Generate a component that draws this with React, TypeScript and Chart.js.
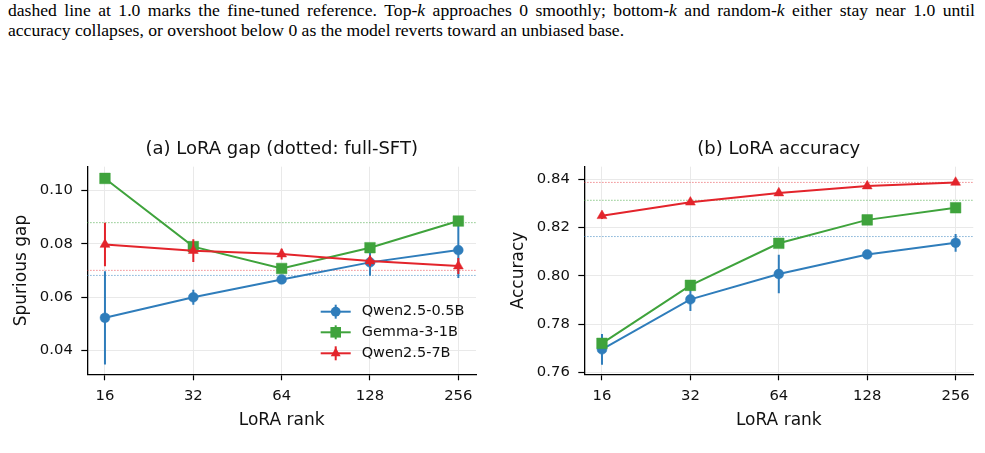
import React, { useEffect, useRef } from 'react';
import { Chart, registerables } from 'chart.js';

Chart.register(...registerables);

// ---------- data ----------
const RANKS = ['16', '32', '64', '128', '256'];
const SERIES_NAMES = ['Qwen2.5-0.5B', 'Gemma-3-1B', 'Qwen2.5-7B'];
const COLORS = ['#2f7dbb', '#3fa33c', '#e3242b'];
const REF_COLORS = ['rgba(47,125,187,0.75)', 'rgba(63,163,60,0.75)', 'rgba(227,36,43,0.65)'];
const MARKERS = ['circle', 'rect', 'triangle'];
const MARKER_RADIUS = [4.9, 7.5, 5.7];

const GAP_QWEN05 = [0.0522, 0.0599, 0.0666, 0.073, 0.0776];
const GAP_QWEN05_ERR = [0.0175, 0.0028, 0.0012, 0.005, 0.0105];
const GAP_GEMMA = [0.1045, 0.0789, 0.0707, 0.0785, 0.0885];
const GAP_GEMMA_ERR = [0.001, 0.0015, 0.001, 0.0015, 0.001];
const GAP_QWEN7 = [0.0797, 0.0774, 0.0761, 0.0735, 0.0716];
const GAP_QWEN7_ERR = [0.0082, 0.0043, 0.002, 0.002, 0.003];
const GAP_FULL_SFT = [0.0681, 0.0879, 0.07];
const GAP_TICKS = [0.04, 0.06, 0.08, 0.1];

const ACC_QWEN05 = [0.7695, 0.7902, 0.8007, 0.8088, 0.8136];
const ACC_QWEN05_ERR = [0.0064, 0.0048, 0.008, 0.0012, 0.0037];
const ACC_GEMMA = [0.772, 0.796, 0.8134, 0.8231, 0.8281];
const ACC_GEMMA_ERR = [0.0015, 0.001, 0.001, 0.001, 0.001];
const ACC_QWEN7 = [0.8248, 0.8304, 0.8342, 0.8371, 0.8386];
const ACC_QWEN7_ERR = [0.0013, 0.0008, 0.0008, 0.0008, 0.0008];
const ACC_FULL_SFT = [0.8162, 0.8312, 0.8386];
const ACC_TICKS = [0.76, 0.78, 0.8, 0.82, 0.84];

const CAPTION_LINE_1 = 'dashed line at 1.0 marks the fine-tuned reference. Top-$k approaches 0 smoothly; bottom-$k and random-$k either stay near 1.0 until';
const CAPTION_LINE_2 = 'accuracy collapses, or overshoot below 0 as the model reverts toward an unbiased base.';

const FONT = "'DejaVu Sans', sans-serif";
const TEXT = '#111';

// ---------- plugins ----------
const errorBarPlugin = {
  id: 'errBars',
  beforeDatasetDraw(chart: any, args: any) {
    const ds = chart.data.datasets[args.index];
    if (!ds.errors) return;
    const { ctx, chartArea } = chart;
    const xs = chart.scales.x;
    const ys = chart.scales.y;
    ctx.save();
    ctx.beginPath();
    ctx.rect(chartArea.left, chartArea.top, chartArea.right - chartArea.left, chartArea.bottom - chartArea.top);
    ctx.clip();
    ctx.strokeStyle = ds.borderColor;
    ctx.lineWidth = 2;
    ds.data.forEach((p: any, i: number) => {
      const e = ds.errors[i];
      const x = xs.getPixelForValue(p.x);
      ctx.beginPath();
      ctx.moveTo(x, ys.getPixelForValue(p.y - e));
      ctx.lineTo(x, ys.getPixelForValue(p.y + e));
      ctx.stroke();
    });
    ctx.restore();
  },
};

const refLinePlugin = {
  id: 'refLines',
  beforeDatasetsDraw(chart: any, _args: any, opts: any) {
    if (!opts || !opts.values) return;
    const { ctx, chartArea } = chart;
    const ys = chart.scales.y;
    ctx.save();
    ctx.lineWidth = 1;
    ctx.setLineDash([1.2, 1.8]);
    opts.values.forEach((v: number, i: number) => {
      const y = ys.getPixelForValue(v);
      ctx.strokeStyle = opts.colors[i];
      ctx.beginPath();
      ctx.moveTo(chartArea.left, y);
      ctx.lineTo(chartArea.right, y);
      ctx.stroke();
    });
    ctx.restore();
  },
};

const panelTitlePlugin = {
  id: 'panelTitle',
  afterDraw(chart: any, _args: any, opts: any) {
    if (!opts || !opts.text) return;
    const { ctx, chartArea } = chart;
    ctx.save();
    ctx.font = `18px ${FONT}`;
    ctx.fillStyle = TEXT;
    ctx.textAlign = 'center';
    ctx.textBaseline = 'middle';
    ctx.fillText(opts.text, (chartArea.left + chartArea.right) / 2, chartArea.top - 17.8);
    ctx.restore();
  },
};

const lineLegendPlugin = {
  id: 'lineLegend',
  afterDraw(chart: any, _args: any, opts: any) {
    if (!opts || !opts.show) return;
    const { ctx, chartArea } = chart;
    const x0 = chartArea.right - 155.3;
    const rows = [62.6, 42, 21];
    chart.data.datasets.forEach((ds: any, i: number) => {
      const y = chartArea.bottom - rows[i];
      ctx.save();
      ctx.strokeStyle = ds.borderColor;
      ctx.lineWidth = 2;
      ctx.beginPath();
      ctx.moveTo(x0, y);
      ctx.lineTo(x0 + 30, y);
      ctx.stroke();
      ctx.beginPath();
      ctx.moveTo(x0 + 15, y - 7);
      ctx.lineTo(x0 + 15, y + 7);
      ctx.stroke();
      ctx.fillStyle = ds.borderColor;
      const r = ds.pointRadius;
      const cx = x0 + 15;
      ctx.beginPath();
      if (ds.pointStyle === 'circle') {
        ctx.arc(cx, y, r, 0, Math.PI * 2);
      } else if (ds.pointStyle === 'rect') {
        const s = r * Math.SQRT1_2;
        ctx.rect(cx - s, y - s, 2 * s, 2 * s);
      } else {
        const h = r * 1.5;
        const w = (r * Math.sqrt(3)) / 2;
        ctx.moveTo(cx, y - (h * 2) / 3);
        ctx.lineTo(cx + w, y + h / 3);
        ctx.lineTo(cx - w, y + h / 3);
        ctx.closePath();
      }
      ctx.fill();
      ctx.font = `14.5px ${FONT}`;
      ctx.fillStyle = TEXT;
      ctx.textAlign = 'left';
      ctx.textBaseline = 'middle';
      ctx.fillText(SERIES_NAMES[i], x0 + 41, y);
      ctx.restore();
    });
  },
};

// ---------- helpers ----------
function buildDatasets(vals: number[][], errs: number[][]) {
  return vals.map((v, i) => ({
    label: SERIES_NAMES[i],
    data: v.map((y, j) => ({ x: j, y })),
    errors: errs[i],
    borderColor: COLORS[i],
    backgroundColor: COLORS[i],
    pointBackgroundColor: COLORS[i],
    pointBorderColor: COLORS[i],
    pointBorderWidth: 0.5,
    borderWidth: 2,
    pointStyle: MARKERS[i],
    pointRadius: MARKER_RADIUS[i],
    tension: 0,
    order: 2 - i,
  }));
}

function buildOptions(cfg: {
  yMin: number;
  yMax: number;
  yTicks: number[];
  yTitle: string;
  yTitlePad: number;
  yWidth: number;
  padRight: number;
  title: string;
  refs: number[];
  legend: boolean;
}) {
  return {
    responsive: false,
    maintainAspectRatio: false,
    animation: false,
    events: [],
    layout: { padding: { top: 166.7, right: cfg.padRight, left: 0, bottom: 0 } },
    plugins: {
      legend: { display: false },
      tooltip: { enabled: false },
      title: { display: false },
      panelTitle: { text: cfg.title },
      refLines: { values: cfg.refs, colors: REF_COLORS },
      lineLegend: { show: cfg.legend },
    },
    scales: {
      x: {
        type: 'linear',
        min: -0.2,
        max: 4.2,
        afterBuildTicks: (s: any) => {
          s.ticks = RANKS.map((_, i) => ({ value: i }));
        },
        afterFit: (s: any) => {
          s.height = 78.7;
        },
        ticks: {
          callback: (v: any) => RANKS[Math.round(v)],
          font: { family: FONT, size: 14.8 },
          color: TEXT,
          padding: 6.5,
          maxRotation: 0,
          autoSkip: false,
        },
        grid: { color: '#e9e9e9', lineWidth: 1, tickColor: '#000', tickLength: 6, tickWidth: 1.2 },
        border: { color: '#000', width: 1.3 },
        title: {
          display: true,
          text: 'LoRA rank',
          font: { family: FONT, size: 17 },
          color: TEXT,
          padding: { top: 0, bottom: 21.8 },
        },
      },
      y: {
        type: 'linear',
        min: cfg.yMin,
        max: cfg.yMax,
        afterBuildTicks: (s: any) => {
          s.ticks = cfg.yTicks.map((v) => ({ value: v }));
        },
        afterFit: (s: any) => {
          s.width = cfg.yWidth;
        },
        ticks: {
          callback: (v: any) => Number(v).toFixed(2),
          font: { family: FONT, size: 14.8 },
          color: TEXT,
          padding: 8.5,
          autoSkip: false,
        },
        grid: { color: '#e9e9e9', lineWidth: 1, tickColor: '#000', tickLength: 6, tickWidth: 1.2 },
        border: { color: '#000', width: 1.3 },
        title: {
          display: true,
          text: cfg.yTitle,
          font: { family: FONT, size: 17 },
          color: TEXT,
          padding: { top: cfg.yTitlePad, bottom: 0 },
        },
      },
    },
  };
}

function Panel(props: { left: number; width: number; datasets: any[]; options: any }) {
  const ref = useRef<HTMLCanvasElement | null>(null);
  useEffect(() => {
    if (!ref.current) return;
    const chart = new Chart(ref.current, {
      type: 'line',
      data: { datasets: props.datasets },
      options: props.options,
      plugins: [errorBarPlugin, refLinePlugin, panelTitlePlugin, lineLegendPlugin],
    } as any);
    return () => chart.destroy();
  }, []);
  return (
    <canvas
      ref={ref}
      width={props.width}
      height={453}
      style={{ position: 'absolute', left: props.left, top: 0, width: props.width, height: 453, display: 'block' }}
    />
  );
}

function CaptionWord({ w }: { w: string }) {
  // "$k" marks an italic math k
  const parts = w.split('$');
  return (
    <span>
      {parts[0]}
      {parts.slice(1).map((p, i) => (
        <React.Fragment key={i}>
          <i>{p.charAt(0)}</i>
          {p.slice(1)}
        </React.Fragment>
      ))}
    </span>
  );
}

export default function App() {
  const gapSets = buildDatasets([GAP_QWEN05, GAP_GEMMA, GAP_QWEN7], [GAP_QWEN05_ERR, GAP_GEMMA_ERR, GAP_QWEN7_ERR]);
  const accSets = buildDatasets([ACC_QWEN05, ACC_GEMMA, ACC_QWEN7], [ACC_QWEN05_ERR, ACC_GEMMA_ERR, ACC_QWEN7_ERR]);
  const gapOpts = buildOptions({
    yMin: 0.031,
    yMax: 0.1089,
    yTicks: GAP_TICKS,
    yTitle: 'Spurious gap',
    yTitlePad: 11.5,
    yWidth: 87.3,
    padRight: 14,
    title: '(a) LoRA gap (dotted: full-SFT)',
    refs: GAP_FULL_SFT,
    legend: true,
  });
  const accOpts = buildOptions({
    yMin: 0.7592,
    yMax: 0.8451,
    yTicks: ACC_TICKS,
    yTitle: 'Accuracy',
    yTitlePad: 18.1,
    yWidth: 94.3,
    padRight: 11.7,
    title: '(b) LoRA accuracy',
    refs: ACC_FULL_SFT,
    legend: false,
  });
  const serif = "'Liberation Serif', 'Times New Roman', serif";
  return (
    <div style={{ position: 'absolute', left: 0, top: 0, width: 985, height: 453, background: '#fff', overflow: 'hidden' }}>
      <div
        style={{
          position: 'absolute',
          left: 8,
          top: 0,
          width: 967,
          display: 'flex',
          justifyContent: 'space-between',
          whiteSpace: 'nowrap',
          fontFamily: serif,
          fontSize: 17.6,
          lineHeight: '20px',
          color: '#000',
        }}
      >
        {CAPTION_LINE_1.split(' ').map((w, i) => (
          <CaptionWord key={i} w={w} />
        ))}
      </div>
      <div
        style={{
          position: 'absolute',
          left: 8,
          top: 20,
          fontFamily: serif,
          fontSize: 17.6,
          lineHeight: '20px',
          color: '#000',
          whiteSpace: 'nowrap',
        }}
      >
        {CAPTION_LINE_2}
      </div>
      <Panel left={0} width={490} datasets={gapSets} options={gapOpts} />
      <Panel left={490} width={495} datasets={accSets} options={accOpts} />
    </div>
  );
}
